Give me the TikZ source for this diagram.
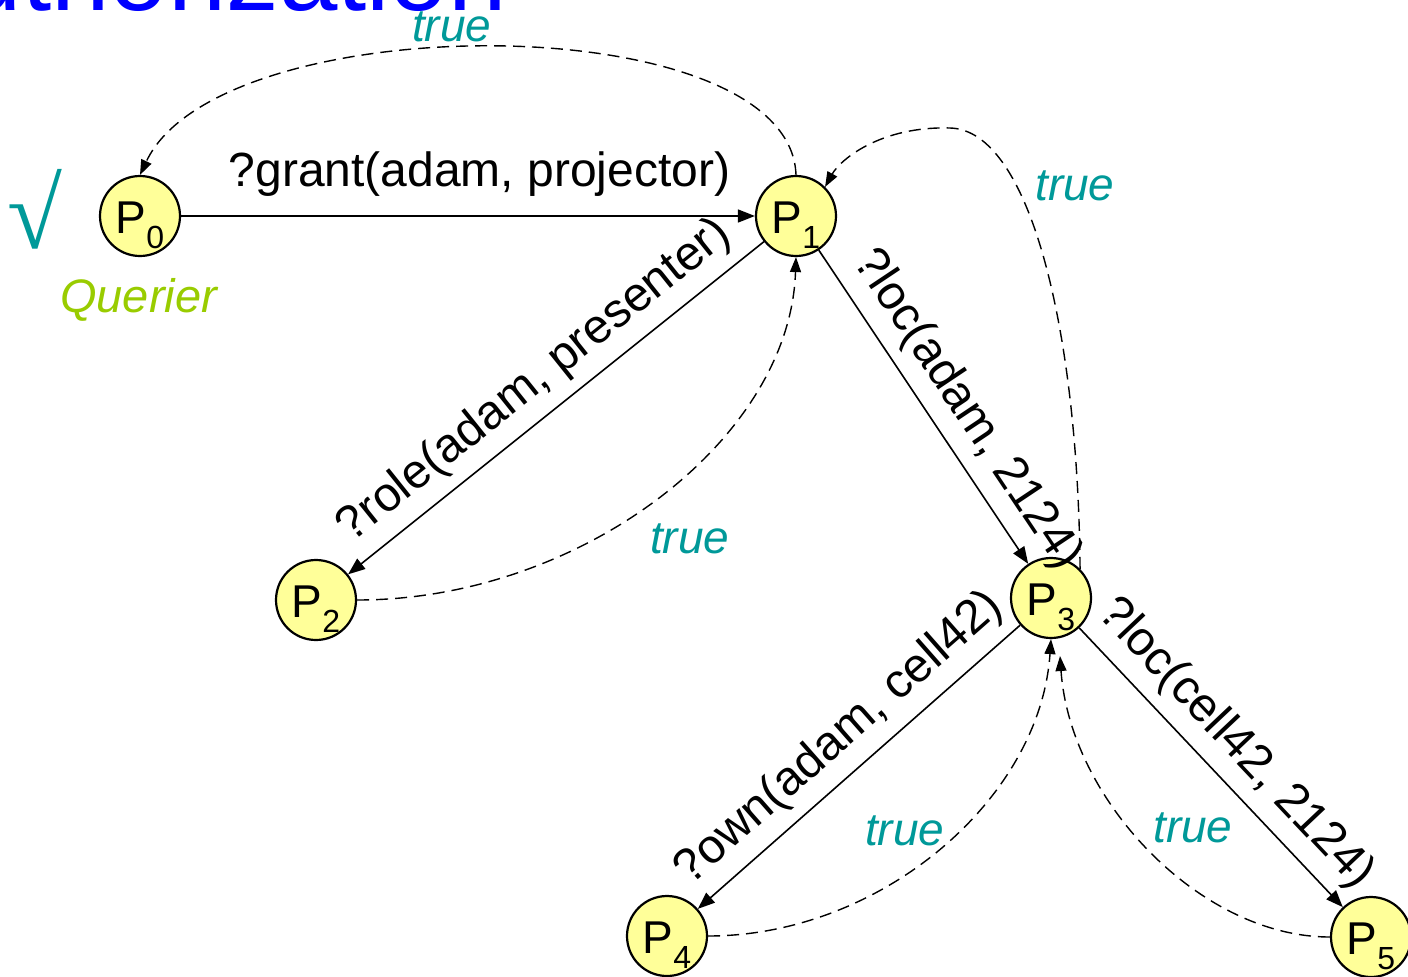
\documentclass[tikz,border=0pt]{standalone}
\usepackage{fontspec}
\setmainfont{Liberation Sans}
\newfontfamily\serifsym{Liberation Serif}
\usetikzlibrary{arrows.meta}
\definecolor{nodeyellow}{HTML}{FFFF99}
\definecolor{tealtext}{HTML}{009999}
\definecolor{qgreen}{HTML}{99CC00}
\definecolor{tblue}{HTML}{0000FF}
\newcommand{\procname}[1]{P\raisebox{-15pt}{\fontsize{32}{32}\selectfont #1}}
\begin{document}
\begin{tikzpicture}[x=1pt,y=1pt,
  proc/.style={circle, draw, line width=2.2pt, fill=nodeyellow, minimum size=80pt, inner sep=0pt,
    text height=40pt, text depth=6pt, font=\fontsize{46}{46}\selectfont},
  req/.style={-{Triangle[length=17pt,width=13pt]}, line width=1.6pt},
  ans/.style={-{Triangle[length=15pt,width=11pt]}, line width=1.4pt, dash pattern=on 12pt off 7pt},
  lbl/.style={font=\fontsize{48}{48}\selectfont, sloped, above, inner sep=11pt},
  tru/.style={text=tealtext, font=\fontsize{46}{46}\selectfont\itshape, anchor=base west, inner sep=0pt}
]
\useasboundingbox (0,0) rectangle (1408,-977);

\node[anchor=base east, text=tblue, font=\fontsize{105}{105}\selectfont, inner sep=0pt] (title) at (507,-10) {Authorization};

\node[proc] (P0) at (140,-216) {\procname{0}};
\node[proc] (P1) at (796,-216) {\procname{1}};
\node[proc] (P2) at (316,-600) {\procname{2}};
\node[proc] (P3) at (1051,-598) {\procname{3}};
\node[proc] (P4) at (667,-936) {\procname{4}};
\node[proc] (P5) at (1371,-937) {\procname{5}};

\node[text=tealtext, font=\serifsym\fontsize{100}{100}\selectfont, inner sep=0pt] (check) at (35,-209) {√};
\node[text=qgreen, font=\fontsize{47}{47}\selectfont\itshape, anchor=base west, inner sep=0pt] (querier) at (60,-312) {Querier};

\draw[req] (P0) -- node[pos=0.52, anchor=base, yshift=30pt, font=\fontsize{48}{48}\selectfont, inner sep=0pt] (lgrant) {?grant(adam, projector)} (P1);
\draw[req] (P1) -- node[lbl, pos=0.5] (lrole) {?role(adam, presenter)} (P2);
\draw[req] (P1) -- node[lbl, pos=0.57] (lloc1) {?loc(adam, 2124)} (P3);
\draw[req] (P3) -- node[lbl, pos=0.49] (lown) {?own(adam, cell42)} (P4);
\draw[req] (P3) -- node[lbl, pos=0.5] (lloc2) {?loc(cell42, 2124)} (P5);

\draw[ans] (P1.north) .. controls (790,-5) and (220,-5) .. (P0.north);
\node[tru] (t0) at (412,-41) {true};
\draw[ans] (P2.east) .. controls (580,-600) and (790,-440) .. (P1.south);
\node[tru] (t1) at (650,-553) {true};
\coordinate (peak) at (950,-128);
\draw[ans] (P3.45) .. controls (1078,-330) and (1030,-130) .. (peak) .. controls (880,-126) and (840,-160) .. (P1.45);
\node[tru] (t2) at (1035,-200) {true};
\draw[ans] (P4.east) .. controls (880,-936) and (1040,-800) .. (P3.south);
\node[tru] (t3) at (865,-845) {true};
\coordinate (P3in) at (1060,-656);
\draw[ans] (P5.west) .. controls (1200,-937) and (1070,-800) .. (P3in);
\node[tru] (t4) at (1153,-842) {true};
\end{tikzpicture}
\end{document}
